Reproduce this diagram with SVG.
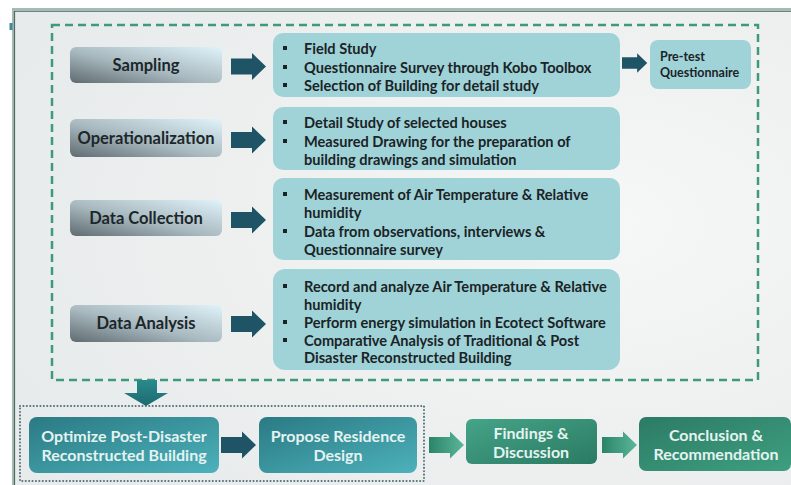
<svg xmlns="http://www.w3.org/2000/svg" xmlns:xlink="http://www.w3.org/1999/xlink" width="791" height="485" viewBox="0 0 791 485">
  <defs>
    <style>
      .stage { fill: url(#stageGrad); }
      .stage-t { font-family: Lato, "Open Sans", sans-serif; font-weight: 700; font-size: 16.5px; fill: #1c272b; text-anchor: middle; }
      .box { fill: #9fd3d8; }
      .bul { font-family: Lato, "Open Sans", sans-serif; font-weight: 700; font-size: 14.6px; fill: #1b2326; }
      .dot { fill: #1b2326; }
      .out-t { font-family: Lato, "Open Sans", sans-serif; font-weight: 700; font-size: 16px; fill: #e4f3f1; text-anchor: middle; }
      .arr { fill: #1f5467; }
    </style>
    <linearGradient id="stageGrad" x1="0" y1="1" x2="1" y2="0">
      <stop offset="0" stop-color="#5f6b70"/>
      <stop offset="0.45" stop-color="#a7b8be"/>
      <stop offset="1" stop-color="#e0f3fa"/>
    </linearGradient>
    <linearGradient id="tealGrad" x1="0" y1="0" x2="1" y2="1">
      <stop offset="0" stop-color="#2a7a83"/>
      <stop offset="1" stop-color="#4db1bb"/>
    </linearGradient>
    <linearGradient id="findGrad" x1="0" y1="0" x2="1" y2="1">
      <stop offset="0" stop-color="#45a487"/>
      <stop offset="1" stop-color="#2a7a62"/>
    </linearGradient>
    <linearGradient id="concGrad" x1="0" y1="0" x2="1" y2="1">
      <stop offset="0" stop-color="#2c7b64"/>
      <stop offset="1" stop-color="#3e9f80"/>
    </linearGradient>
    <linearGradient id="greenArr" x1="0" y1="0" x2="1" y2="0">
      <stop offset="0" stop-color="#2b8468"/>
      <stop offset="1" stop-color="#5bb799"/>
    </linearGradient>
    <linearGradient id="downArr" x1="0" y1="0" x2="0" y2="1">
      <stop offset="0" stop-color="#2a8a8c"/>
      <stop offset="1" stop-color="#1c6a70"/>
    </linearGradient>
    <radialGradient id="bgGrad" cx="0.75" cy="0.45" r="0.8">
      <stop offset="0" stop-color="#f6f7f7"/>
      <stop offset="1" stop-color="#e8ebeb"/>
    </radialGradient>
    <!-- block arrow, origin at left middle -->
    <path id="arrow" d="M0,-8 H21 V-13.5 L35,0 L21,13.5 V8 H0 Z"/>
  </defs>

  <!-- page frame -->
  <rect x="0" y="0" width="791" height="485" fill="#ffffff"/>
  <rect x="12" y="8" width="779" height="477" fill="url(#bgGrad)"/>
  <rect x="12" y="8" width="779" height="3" fill="#a6bbb4"/>
  <line x1="14" y1="11.5" x2="791" y2="11.5" stroke="#6b8680" stroke-width="1"/>
  <rect x="12" y="8" width="3" height="477" fill="#a6bbb4"/>
  <line x1="14.5" y1="11" x2="14.5" y2="485" stroke="#4e6b66" stroke-width="1.2"/>
  <rect x="9.5" y="23" width="3" height="7" fill="#3d8a9a"/>

  <!-- grouping outlines -->
  <rect x="52" y="25" width="706" height="355" fill="none" stroke="#3f9a7c" stroke-width="2.5" stroke-dasharray="8 5"/>
  <rect x="20" y="406" width="404" height="75" fill="none" stroke="#56727b" stroke-width="2" stroke-dasharray="0.1 3.3" stroke-linecap="round"/>

  <!-- stages -->
  <g id="sampling">
    <rect class="stage" x="70" y="47" width="152" height="36" rx="6"/>
    <text class="stage-t" x="146" y="71">Sampling</text>
  </g>
  <g id="operationalization">
    <rect class="stage" x="70" y="119" width="152" height="38" rx="6"/>
    <text class="stage-t" x="146" y="144">Operationalization</text>
  </g>
  <g id="data-collection">
    <rect class="stage" x="70" y="200" width="152" height="36" rx="6"/>
    <text class="stage-t" x="146" y="224">Data Collection</text>
  </g>
  <g id="data-analysis">
    <rect class="stage" x="70" y="305" width="152" height="37" rx="6"/>
    <text class="stage-t" x="146" y="329">Data Analysis</text>
  </g>

  <!-- detail boxes -->
  <g id="sampling-detail">
    <rect class="box" x="273" y="33" width="347" height="64" rx="10"/>
    <rect class="dot" x="283" y="46" width="4" height="4"/>
    <rect class="dot" x="283" y="65" width="4" height="4"/>
    <rect class="dot" x="283" y="83" width="4" height="4"/>
    <text class="bul" x="304" y="54">Field Study</text>
    <text class="bul" x="304" y="73">Questionnaire Survey through Kobo Toolbox</text>
    <text class="bul" x="304" y="91">Selection of Building for detail study</text>
  </g>
  <g id="pretest">
    <rect class="box" x="650" y="40" width="101" height="49" rx="8"/>
    <text class="bul" x="660" y="61" style="font-size:12.5px">Pre-test</text>
    <text class="bul" x="660" y="77" style="font-size:12.5px">Questionnaire</text>
  </g>
  <g id="operationalization-detail">
    <rect class="box" x="273" y="107" width="347" height="63" rx="10"/>
    <rect class="dot" x="283" y="120" width="4" height="4"/>
    <rect class="dot" x="283" y="139" width="4" height="4"/>
    <text class="bul" x="304" y="128">Detail Study of selected houses</text>
    <text class="bul" x="304" y="147">Measured Drawing for the preparation of</text>
    <text class="bul" x="304" y="165">building drawings and simulation</text>
  </g>
  <g id="data-collection-detail">
    <rect class="box" x="273" y="178" width="347" height="82" rx="10"/>
    <rect class="dot" x="283" y="192" width="4" height="4"/>
    <rect class="dot" x="283" y="229" width="4" height="4"/>
    <text class="bul" x="304" y="200">Measurement of Air Temperature &amp; Relative</text>
    <text class="bul" x="304" y="218">humidity</text>
    <text class="bul" x="304" y="237">Data from observations, interviews &amp;</text>
    <text class="bul" x="304" y="255">Questionnaire survey</text>
  </g>
  <g id="data-analysis-detail">
    <rect class="box" x="273" y="269" width="347" height="101" rx="12"/>
    <rect class="dot" x="283" y="284" width="4" height="4"/>
    <rect class="dot" x="283" y="320" width="4" height="4"/>
    <rect class="dot" x="283" y="338" width="4" height="4"/>
    <text class="bul" x="304" y="292">Record and analyze Air Temperature &amp; Relative</text>
    <text class="bul" x="304" y="310">humidity</text>
    <text class="bul" x="304" y="328">Perform energy simulation in Ecotect Software</text>
    <text class="bul" x="304" y="345.5">Comparative Analysis of Traditional &amp; Post</text>
    <text class="bul" x="304" y="363">Disaster Reconstructed Building</text>
  </g>

  <!-- outcomes -->
  <g id="optimize">
    <rect x="29" y="417" width="190" height="56" rx="8" fill="url(#tealGrad)"/>
    <text class="out-t" x="124" y="442">Optimize Post-Disaster</text>
    <text class="out-t" x="124" y="461">Reconstructed Building</text>
  </g>
  <g id="propose">
    <rect x="259" y="417" width="158" height="56" rx="8" fill="url(#tealGrad)"/>
    <text class="out-t" x="338" y="442">Propose Residence</text>
    <text class="out-t" x="338" y="461">Design</text>
  </g>
  <g id="findings">
    <rect x="466" y="419" width="131" height="45" rx="6" fill="url(#findGrad)"/>
    <text class="out-t" x="531" y="439">Findings &amp;</text>
    <text class="out-t" x="531" y="458">Discussion</text>
  </g>
  <g id="conclusion">
    <rect x="639" y="417" width="152" height="54" rx="7" fill="url(#concGrad)"/>
    <text class="out-t" x="716" y="441">Conclusion &amp;</text>
    <text class="out-t" x="716" y="460">Recommendation</text>
  </g>

  <!-- connectors -->
  <g id="connectors">
    <use xlink:href="#arrow" class="arr" x="231" y="66.5"/>
    <use xlink:href="#arrow" class="arr" x="231" y="140"/>
    <use xlink:href="#arrow" class="arr" x="231" y="220"/>
    <use xlink:href="#arrow" class="arr" x="231" y="324"/>
    <use xlink:href="#arrow" class="arr" transform="translate(622 63) scale(0.72)"/>
    <use xlink:href="#arrow" class="arr" transform="translate(221 445)"/>
    <use xlink:href="#arrow" fill="url(#greenArr)" transform="translate(429 445)"/>
    <use xlink:href="#arrow" fill="url(#greenArr)" transform="translate(602 445)"/>
    <path d="M137,380 H157 V393 H168 L146,406 L124,393 H137 Z" fill="url(#downArr)"/>
  </g>
</svg>
